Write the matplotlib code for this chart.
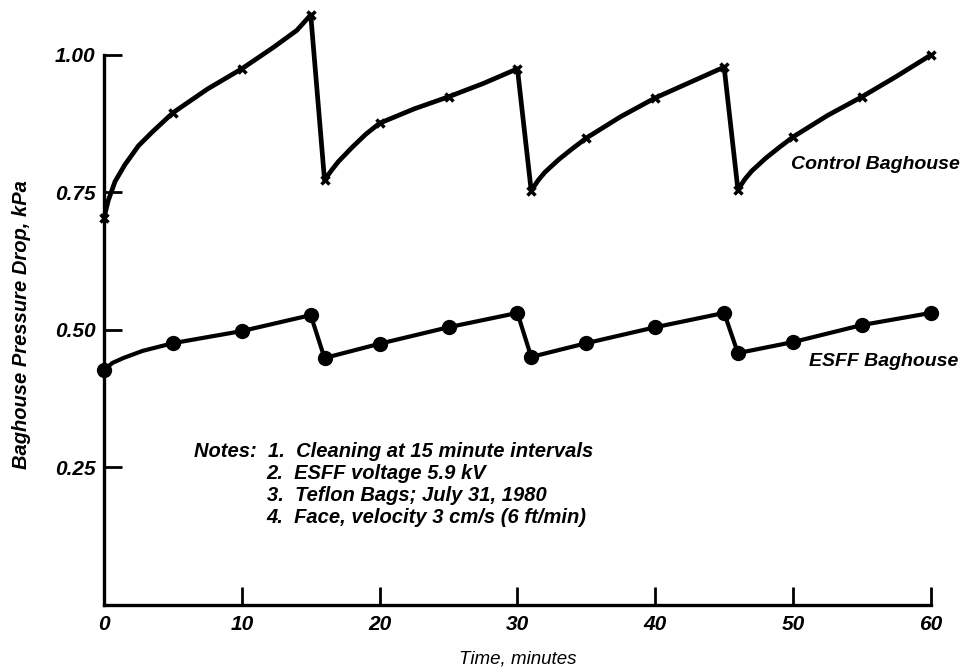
import matplotlib
matplotlib.use("Agg")
import matplotlib.pyplot as plt

# control baghouse: traced curve (times in minutes, pressure drop in kPa)
ctrl_t = [0, 0.3, 0.8, 1.5, 2.5, 3.5, 5, 7.5, 10, 12.3, 14, 15,
          16, 16.5, 17, 18, 19, 20, 22.5, 25, 27.5, 30,
          31, 31.5, 32, 33, 34, 35, 37.5, 40, 42.5, 45,
          46, 46.5, 47, 48, 49, 50, 52.5, 55, 57.5, 60]
ctrl_p = [0.704, 0.735, 0.770, 0.800, 0.835, 0.860, 0.895, 0.938, 0.975, 1.014, 1.045, 1.073,
          0.773, 0.790, 0.806, 0.832, 0.856, 0.876, 0.902, 0.924, 0.948, 0.975,
          0.753, 0.772, 0.787, 0.810, 0.830, 0.849, 0.888, 0.922, 0.950, 0.978,
          0.755, 0.774, 0.789, 0.812, 0.832, 0.851, 0.890, 0.924, 0.961, 1.000]
ctrl_marks = [0, 5, 10, 15, 16, 20, 25, 30, 31, 35, 40, 45, 46, 50, 55, 60]

# ESFF baghouse
esff_t = [0, 0.6, 1.4, 2.8, 5, 10, 15, 16, 20, 25, 30, 31, 35, 40, 45, 46, 50, 55, 60]
esff_p = [0.427, 0.440, 0.449, 0.462, 0.476, 0.498, 0.527, 0.449, 0.475, 0.505, 0.531,
          0.451, 0.476, 0.505, 0.531, 0.458, 0.478, 0.509, 0.531]
esff_marks = [0, 5, 10, 15, 16, 20, 25, 30, 31, 35, 40, 45, 46, 50, 55, 60]

x_ticks = [0, 10, 20, 30, 40, 50, 60]
y_ticks = [0.25, 0.50, 0.75, 1.00]

notes = ["Notes:  1.  Cleaning at 15 minute intervals",
         "2.  ESFF voltage 5.9 kV",
         "3.  Teflon Bags; July 31, 1980",
         "4.  Face, velocity 3 cm/s (6 ft/min)"]

plt.rcParams['font.family'] = ['Liberation Sans', 'DejaVu Sans']
plt.rcParams['font.style'] = 'italic'

fig = plt.figure(figsize=(9.75, 6.67), dpi=100)
ax = fig.add_axes([0.1067, 0.093, 0.848, 0.907])

ax.plot(ctrl_t, ctrl_p, color='black', lw=3.4, marker='x', ms=6, mew=2.5,
        solid_joinstyle='round', solid_capstyle='round', clip_on=False,
        markevery=[i for i, t in enumerate(ctrl_t) if t in ctrl_marks])
ax.plot(esff_t, esff_p, color='black', lw=3.0, marker='o', ms=10,
        solid_joinstyle='round', solid_capstyle='round', clip_on=False,
        markevery=[i for i, t in enumerate(esff_t) if t in esff_marks])

ax.set_xlim(0, 60)
ax.set_ylim(0, 1.1)
ax.spines['top'].set_visible(False)
ax.spines['right'].set_visible(False)
ax.spines['left'].set_bounds(0, 1.0)
ax.spines['bottom'].set_bounds(0, 60)
for s in ('left', 'bottom'):
    ax.spines[s].set_linewidth(2.4)
    ax.spines[s].set_clip_on(False)

ax.set_xticks(x_ticks)
ax.set_xticklabels([str(v) for v in x_ticks], fontsize=15, fontweight='bold')
ax.set_yticks(y_ticks)
ax.set_yticklabels(["%.2f" % v for v in y_ticks], fontsize=15, fontweight='bold')
ax.tick_params(direction='in', length=13, width=2.0)
ax.tick_params(axis='x', pad=7)
ax.tick_params(axis='y', pad=6)

ax.set_xlabel("Time, minutes", fontsize=13.5, labelpad=12)
ax.set_ylabel("Baghouse Pressure Drop, kPa", fontsize=14.5, fontweight='bold')
ax.yaxis.set_label_coords(-0.088, 0.464)

ax.text(62.1, 0.80, "Control Baghouse", ha='right', va='center',
        fontsize=14, fontweight='bold', clip_on=False)
ax.text(62.0, 0.443, "ESFF Baghouse", ha='right', va='center',
        fontsize=14, fontweight='bold', clip_on=False)

ax.text(6.5, 0.279, notes[0], ha='left', va='center', fontsize=14.5, fontweight='bold')
for i, line in enumerate(notes[1:]):
    ax.text(11.8, 0.279 - 0.040 * (i + 1), line, ha='left', va='center',
            fontsize=14.5, fontweight='bold')

fig.savefig("out.png", dpi=100)
